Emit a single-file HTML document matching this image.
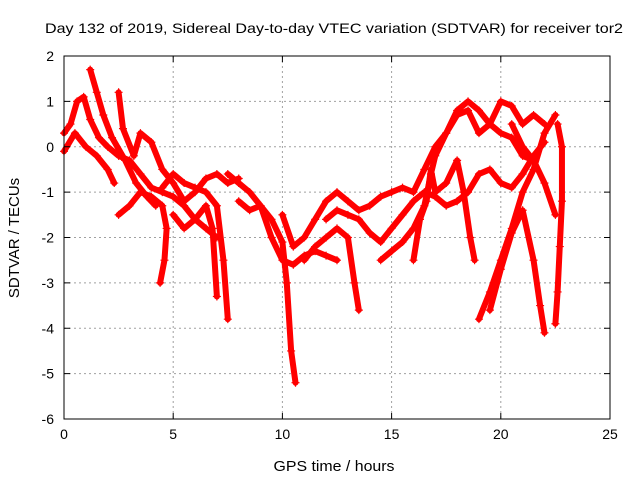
<!DOCTYPE html>
<html><head><meta charset="utf-8"><style>
body{margin:0;background:#fff;}
svg{display:block;font-family:"Liberation Sans",sans-serif;}
</style></head><body>
<svg id="chart" width="640" height="480">
<text x="334" y="33" font-size="14" text-anchor="middle" textLength="578" lengthAdjust="spacingAndGlyphs">Day 132 of 2019, Sidereal Day-to-day VTEC variation (SDTVAR) for receiver tor2</text>
<text x="334" y="471" font-size="15" text-anchor="middle" textLength="121" lengthAdjust="spacingAndGlyphs">GPS time / hours</text>
<text transform="translate(19,238) rotate(-90)" font-size="15" text-anchor="middle">SDTVAR / TECUs</text>
<g id="grid"></g><g id="marks"></g>
<rect x="64" y="56" width="546" height="363" fill="none" stroke="#000"/>
<g id="ticks"></g>
</svg>
<script>
const xTicks=[0,5,10,15,20,25];
const yTicks=[2,1,0,-1,-2,-3,-4,-5,-6];
const t1x=[0,0.3,0.6,0.9,1.2,1.6,2.0,2.5,3,3.5,4,4.5,5,5.5,6,6.5,7];
const t1y=[0.3,0.5,1.0,1.1,0.6,0.2,0.0,-0.2,-0.3,-0.6,-0.9,-1.0,-1.1,-1.3,-1.6,-1.8,-2.0];
const t2x=[0,0.5,1,1.5,2,2.3];
const t2y=[-0.1,0.3,0.0,-0.2,-0.5,-0.8];
const t3x=[1.2,1.5,1.8,2.2,2.8,3.3,3.8,4.2];
const t3y=[1.7,1.2,0.7,0.2,-0.3,-0.8,-1.1,-1.3];
const t4x=[2.5,2.7,3.2,3.5,4,4.5,5,5.5,6,6.5,7,7.5,8];
const t4y=[1.2,0.4,-0.2,0.3,0.1,-0.5,-0.8,-1.2,-1.0,-0.7,-0.6,-0.8,-0.7];
const t5x=[2.5,3,3.5,4,4.5,4.7,4.6,4.4];
const t5y=[-1.5,-1.3,-1.0,-1.1,-1.3,-1.8,-2.5,-3.0];
const t6x=[4.5,5,5.5,6,6.5,7,7.3,7.5];
const t6y=[-0.9,-0.6,-0.8,-0.9,-1.0,-1.3,-2.5,-3.8];
const t7x=[5,5.5,6,6.5,6.8,7];
const t7y=[-1.5,-1.8,-1.6,-1.3,-1.8,-3.3];
const t8x=[7.5,8,8.5,9,9.5,10,10.2,10.4,10.6];
const t8y=[-0.6,-0.8,-1.0,-1.3,-1.6,-2.1,-3.0,-4.5,-5.2];
const t9x=[8,8.5,9,9.5,10,10.5,11,11.5,12,12.5];
const t9y=[-1.2,-1.4,-1.3,-2.0,-2.5,-2.6,-2.4,-2.3,-2.4,-2.5];
const t10x=[10,10.5,11,11.5,12,12.5,13,13.5,14,14.5,15,15.5,16,16.5,17,17.5,18,18.5,19,19.5,20,20.5,21,21.5,22];
const t10y=[-1.5,-2.2,-2.0,-1.6,-1.2,-1.0,-1.2,-1.4,-1.3,-1.1,-1.0,-0.9,-1.0,-0.5,0.0,0.3,0.7,0.8,0.3,0.5,1.0,0.9,0.5,0.7,0.5];
const t11x=[11,11.5,12,12.5,13,13.3,13.5];
const t11y=[-2.5,-2.2,-2.0,-1.8,-2.0,-3.0,-3.6];
const t12x=[12,12.5,13,13.5,14,14.5,15,15.5,16,16.5,17,17.5,18,18.5,19,19.5,20,20.5,21,21.5,22];
const t12y=[-1.6,-1.4,-1.5,-1.6,-1.9,-2.1,-1.8,-1.5,-1.2,-1.0,-1.1,-1.3,-1.2,-1.0,-0.6,-0.5,-0.8,-0.9,-0.6,-0.2,0.1];
const t13x=[14.5,15,15.5,16,16.5,16.8,17,17.5,18,18.5,19,19.5,20,20.5,21,21.5];
const t13y=[-2.5,-2.3,-2.1,-1.8,-1.3,-0.6,-0.2,0.3,0.8,1.0,0.8,0.5,0.3,0.2,-0.2,-0.3];
const t14x=[16,16.3,16.6,16.8,17,17.5,18,18.3,18.6,18.8];
const t14y=[-2.5,-1.6,-1.2,-0.5,-1.0,-0.8,-0.3,-1.0,-2.0,-2.5];
const t15x=[19,19.5,20,20.5,21,21.5,22,22.5];
const t15y=[-3.8,-3.2,-2.5,-1.8,-1.0,-0.5,0.3,0.7];
const t16x=[19.5,20,20.5,21,21.5,21.8,22];
const t16y=[-3.6,-2.7,-1.9,-1.4,-2.5,-3.5,-4.1];
const t17x=[20.5,21,21.5,22,22.5];
const t17y=[0.5,0.0,-0.3,-0.8,-1.5];
const t18x=[22.5,22.6,22.7,22.8,22.8,22.6];
const t18y=[-3.9,-3.2,-2.2,-1.2,0.0,0.5];
const tracksX=[t1x,t2x,t3x,t4x,t5x,t6x,t7x,t8x,t9x,t10x,t11x,t12x,t13x,t14x,t15x,t16x,t17x,t18x];
const tracksY=[t1y,t2y,t3y,t4y,t5y,t6y,t7y,t8y,t9y,t10y,t11y,t12y,t13y,t14y,t15y,t16y,t17y,t18y];
const L=64,R=610,T=56,B=419;
const sx=v=>L+(v-0)/25*(R-L);
const sy=v=>T+(2-v)/8*(B-T);
const NS="http://www.w3.org/2000/svg";
function mk(tag,attrs,parent){const e=document.createElementNS(NS,tag);for(const k in attrs)e.setAttribute(k,attrs[k]);parent.appendChild(e);return e;}
const grid=document.getElementById('grid'),ticks=document.getElementById('ticks'),marks=document.getElementById('marks');
xTicks.forEach(v=>{
 const x=sx(v);
 if(v>0&&v<25){const g=mk('line',{x1:x,x2:x,y1:T,y2:B,stroke:'#a0a0a0','stroke-dasharray':'2,3'},grid);
 
 }
 mk('line',{x1:x,x2:x,y1:B,y2:B-6,stroke:'#000'},ticks);
 mk('line',{x1:x,x2:x,y1:T,y2:T+6,stroke:'#000'},ticks);
 const t=mk('text',{x:x,y:B+20,'font-size':14,'text-anchor':'middle'},ticks);t.textContent=v;
 
 
});
yTicks.forEach(v=>{
 const y=sy(v);
 if(v<2&&v>-6){const g=mk('line',{x1:L,x2:R,y1:y,y2:y,stroke:'#a0a0a0','stroke-dasharray':'2,3'},grid);
 
 }
 mk('line',{x1:L,x2:L+6,y1:y,y2:y,stroke:'#000'},ticks);
 mk('line',{x1:R,x2:R-6,y1:y,y2:y,stroke:'#000'},ticks);
 const t=mk('text',{x:L-10,y:y+5,'font-size':14,'text-anchor':'end'},ticks);t.textContent=v;
 
 
});
tracksX.forEach((xs,i)=>{
 const ys=tracksY[i];
 const pts=xs.map((x,j)=>sx(x)+','+sy(ys[j])).join(' ');
 const pl=mk('polyline',{points:pts,fill:'none',stroke:'#ff0000','stroke-width':6,'stroke-linejoin':'round','stroke-linecap':'round'},marks);
 
 
 xs.forEach((x,j)=>{
  const cx=sx(x),cy=sy(ys[j]);
  const p=mk('path',{d:`M${cx-4},${cy}H${cx+4}M${cx},${cy-4}V${cy+4}`,stroke:'#ff0000','stroke-width':1.2},marks);
  
  
 });
});
</script>
</body></html>
